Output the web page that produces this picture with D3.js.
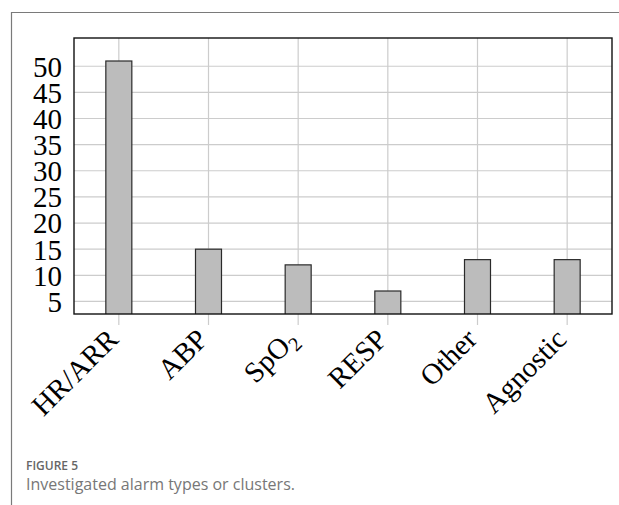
<!DOCTYPE html>
<html lang="en">
<head>
    <meta charset="UTF-8">
    <title>Investigated alarm types</title>
    <style>
        body {
            margin: 0;
            background: #fff;
        }

        svg {
            display: block;
        }

        .tick-label {
            font-family: "Liberation Serif", "Times New Roman", serif;
            font-size: 29px;
            fill: #000;
        }

        .caption-title {
            font-family: "Open Sans", sans-serif;
            font-size: 12px;
            font-weight: 600;
            fill: #666;
        }

        .caption-text {
            font-family: "Open Sans", sans-serif;
            font-size: 16px;
            fill: #777;
        }
    </style>
</head>

<body>
    <svg id="chart"></svg>
</body>

<script src="https://cdn.jsdelivr.net/npm/d3@7/dist/d3.min.js"></script>

<script>
    // data
    let categories = ["HR/ARR", "ABP", "SpO2", "RESP", "Other", "Agnostic"]
    let counts = [51, 15, 12, 7, 13, 13]
    let yTicks = [5, 10, 15, 20, 25, 30, 35, 40, 45, 50]

    let width = 619;
    let height = 505;

    let svg = d3.select("#chart")
        .attr("width", width)
        .attr("height", height)

    // outer figure frame (top + left rule)
    svg.append("path")
        .attr("d", `M11.5,${height} V12.5 H${width}`)
        .attr("fill", "none")
        .attr("stroke", "#7a7a7a")
        .attr("stroke-width", 1.2)

    let plot = { left: 74, right: 612, top: 38, bottom: 314 }

    // pgfplots style enlarged limits
    let lo = d3.min(counts), hi = d3.max(counts)
    let pad = 0.1 * (hi - lo)

    let xScale = d3.scaleBand()
        .domain(categories)
        .range([plot.left, plot.right])
        .padding(0)

    let yScale = d3.scaleLinear()
        .domain([lo - pad, hi + pad])
        .range([plot.bottom, plot.top])

    let barWidth = 26;

    // grid
    let grid = svg.append("g")
    grid.selectAll(".hgrid")
        .data(yTicks)
        .enter()
        .append("line")
        .attr("x1", plot.left)
        .attr("x2", plot.right)
        .attr("y1", d => yScale(d))
        .attr("y2", d => yScale(d))
        .attr("stroke", "#cccccc")
        .attr("stroke-width", 1.2)

    grid.selectAll(".vgrid")
        .data(categories)
        .enter()
        .append("line")
        .attr("x1", d => xScale(d) + xScale.bandwidth() / 2)
        .attr("x2", d => xScale(d) + xScale.bandwidth() / 2)
        .attr("y1", plot.top)
        .attr("y2", plot.bottom + 11)
        .attr("stroke", "#cccccc")
        .attr("stroke-width", 1.2)

    // bars (clipped to the plot box)
    svg.append("clipPath").attr("id", "clip")
        .append("rect")
        .attr("x", plot.left)
        .attr("y", plot.top)
        .attr("width", plot.right - plot.left)
        .attr("height", plot.bottom - plot.top)

    svg.append("g")
        .attr("clip-path", "url(#clip)")
        .selectAll("rect")
        .data(categories)
        .enter()
        .append("rect")
        .attr("x", d => xScale(d) + xScale.bandwidth() / 2 - barWidth / 2)
        .attr("width", barWidth)
        .attr("y", (d, i) => yScale(counts[i]))
        .attr("height", (d, i) => plot.bottom + 2 - yScale(counts[i]))
        .attr("fill", "#bcbcbc")
        .attr("stroke", "#2a2a2a")
        .attr("stroke-width", 1.2)

    // axis box
    svg.append("rect")
        .attr("x", plot.left)
        .attr("y", plot.top)
        .attr("width", plot.right - plot.left)
        .attr("height", plot.bottom - plot.top)
        .attr("fill", "none")
        .attr("stroke", "#111")
        .attr("stroke-width", 1.4)

    // y axis labels
    let yAxis = d3.axisLeft(yScale)
        .tickValues(yTicks)
        .tickSize(0)
        .tickPadding(12)

    svg.append("g")
        .attr("transform", `translate(${plot.left},0)`)
        .call(yAxis)
        .call(g => g.select(".domain").remove())
        .selectAll("text")
        .attr("class", "tick-label")
        .attr("font-family", null)
        .attr("font-size", null)
        .attr("dy", "0.34em")

    // x axis labels, rotated
    let xAxis = d3.axisBottom(xScale).tickSize(0).tickFormat("")
    let xg = svg.append("g")
        .attr("transform", `translate(0,${plot.bottom})`)
        .call(xAxis)
    xg.select(".domain").remove()

    xg.selectAll(".tick")
        .append("text")
        .attr("class", "tick-label")
        .attr("text-anchor", "end")
        .attr("transform", "translate(1,27) rotate(-45)")
        .each(function (d) {
            let t = d3.select(this)
            if (d === "SpO2") {
                t.append("tspan").text("SpO")
                t.append("tspan")
                    .attr("font-size", "20px")
                    .attr("dy", "6")
                    .text("2")
            } else {
                t.text(d)
            }
        })

    // caption
    svg.append("text")
        .attr("class", "caption-title")
        .attr("x", 26)
        .attr("y", 470)
        .text("FIGURE 5")

    svg.append("text")
        .attr("class", "caption-text")
        .attr("x", 26)
        .attr("y", 490)
        .text("Investigated alarm types or clusters.")
</script>

</html>
